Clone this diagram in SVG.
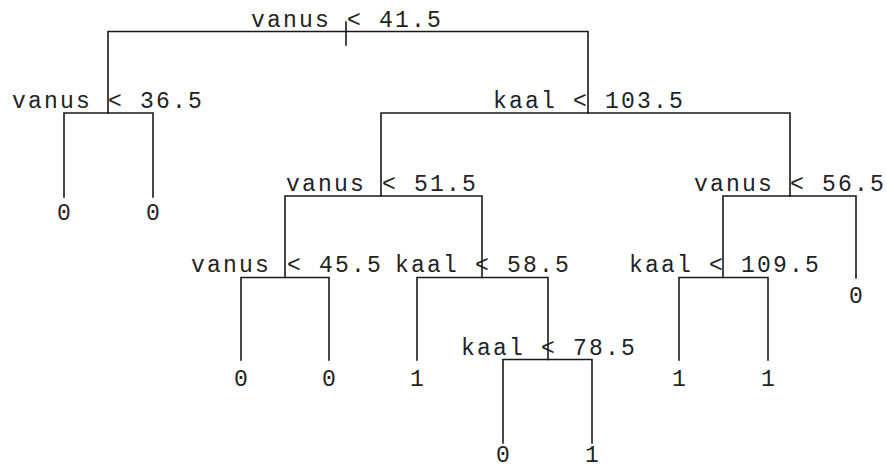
<svg xmlns="http://www.w3.org/2000/svg" width="887" height="470" viewBox="0 0 887 470">
<style>
.e{fill:none;stroke:#1a1a1a;stroke-width:1.6;stroke-linecap:square}
text{font-family:"Liberation Mono","Courier New",monospace;font-size:23px;letter-spacing:2.2px;fill:#222;text-anchor:middle}
</style>
<rect width="887" height="470" fill="#fff"/>
<g id="connectors">
<path class="e" d="M346,22V45"/>
<path class="e" d="M108,31.5H588M108,31.5V113M588,31.5V113"/>
<path class="e" d="M64,113H153M64,113V197M153,113V197"/>
<path class="e" d="M381,113H790M381,113V196M790,113V196"/>
<path class="e" d="M285,196H482M285,196V277.5M482,196V277.5"/>
<path class="e" d="M723,196H856M723,196V277.5M856,196V278"/>
<path class="e" d="M241,277.5H329M241,277.5V360M329,277.5V360"/>
<path class="e" d="M417,277.5H548M417,277.5V360M548,277.5V359.5"/>
<path class="e" d="M679,277.5H768M679,277.5V360M768,277.5V360"/>
<path class="e" d="M503,359.5H592M503,359.5V443M592,359.5V443"/>
</g>
<g id="n1"><text x="347" y="26.5">vanus &lt; 41.5</text></g>
<g id="n2"><text x="108" y="107.5">vanus &lt; 36.5</text></g>
<g id="n4"><text x="65" y="220">0</text></g>
<g id="n5"><text x="154" y="220">0</text></g>
<g id="n3"><text x="589" y="107.5">kaal &lt; 103.5</text></g>
<g id="n6"><text x="382" y="190.5">vanus &lt; 51.5</text></g>
<g id="n7"><text x="790" y="190.5">vanus &lt; 56.5</text></g>
<g id="n12"><text x="287" y="272">vanus &lt; 45.5</text></g>
<g id="n24"><text x="242" y="386">0</text></g>
<g id="n25"><text x="330" y="386">0</text></g>
<g id="n13"><text x="483" y="272">kaal &lt; 58.5</text></g>
<g id="n26"><text x="418" y="386">1</text></g>
<g id="n27"><text x="549" y="354.5">kaal &lt; 78.5</text></g>
<g id="n54"><text x="504" y="462">0</text></g>
<g id="n55"><text x="593" y="462">1</text></g>
<g id="n14"><text x="725" y="272">kaal &lt; 109.5</text></g>
<g id="n28"><text x="680" y="386">1</text></g>
<g id="n29"><text x="769" y="386">1</text></g>
<g id="n15"><text x="857" y="303">0</text></g>
</svg>
